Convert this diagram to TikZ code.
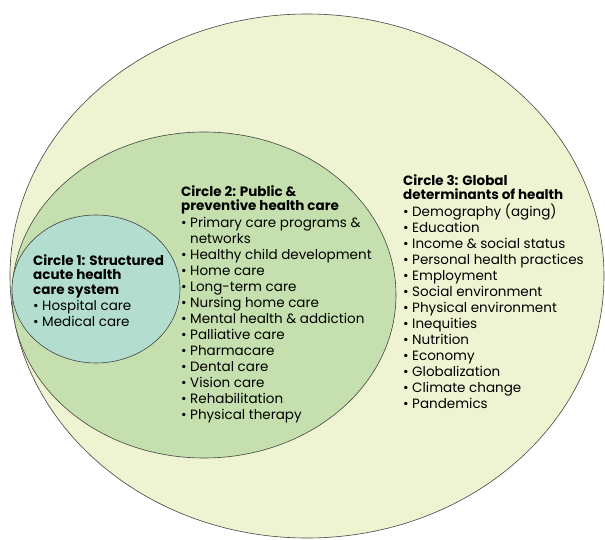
\documentclass[tikz,border=0pt]{standalone}
\usepackage{fontspec}
\setmainfont{Poppins}
\usetikzlibrary{shapes.geometric}
\definecolor{outerfill}{HTML}{EEF4D2}
\definecolor{midfill}{HTML}{C5E0AE}
\definecolor{innerfill}{HTML}{B3DDCF}
\definecolor{rim}{HTML}{444444}
\newcommand{\bul}{\makebox[9pt][l]{•}}
\newcommand{\cont}{\hspace*{9pt}}
\tikzset{
  ring/.style={ellipse, draw=rim, line width=0.6pt, inner sep=0pt},
  block/.style={anchor=base west, align=left, inner sep=0pt,
    font=\fontsize{13.5}{16}\selectfont, text=black},
}
\begin{document}
\begin{tikzpicture}[x=1pt,y=-1pt]
\useasboundingbox (0,0) rectangle (605,540);
\node[ring, fill=outerfill, minimum width=594pt, minimum height=524pt] (c3) at (307,276) {};
\node[ring, fill=midfill, minimum width=384pt, minimum height=326pt] (c2) at (204,295) {};
\node[ring, fill=innerfill, minimum width=168pt, minimum height=148pt] (c1) at (96,289) {};

\node[block] (t1) at (33,326) {\textbf{Circle 1: Structured}\\[-1.5pt]
\textbf{acute health}\\[-1.5pt]
\textbf{care system}\\
\bul Hospital care\\
\bul Medical care};

\node[block] (t2) at (181,419) {\textbf{Circle 2: Public \&}\\[-2pt]
\textbf{preventive health care}\\[0.5pt]
\bul Primary care programs \&\\
\cont networks\\
\bul Healthy child development\\
\bul Home care\\
\bul Long-term care\\
\bul Nursing home care\\
\bul Mental health \& addiction\\
\bul Palliative care\\
\bul Pharmacare\\
\bul Dental care\\
\bul Vision care\\
\bul Rehabilitation\\
\bul Physical therapy};

\node[block] (t3) at (403,408) {\textbf{Circle 3: Global}\\[-2pt]
\textbf{determinants of health}\\[1pt]
\bul Demography (aging)\\
\bul Education\\
\bul Income \& social status\\
\bul Personal health practices\\
\bul Employment\\
\bul Social environment\\
\bul Physical environment\\
\bul Inequities\\
\bul Nutrition\\
\bul Economy\\
\bul Globalization\\
\bul Climate change\\
\bul Pandemics};
\end{tikzpicture}
\end{document}
